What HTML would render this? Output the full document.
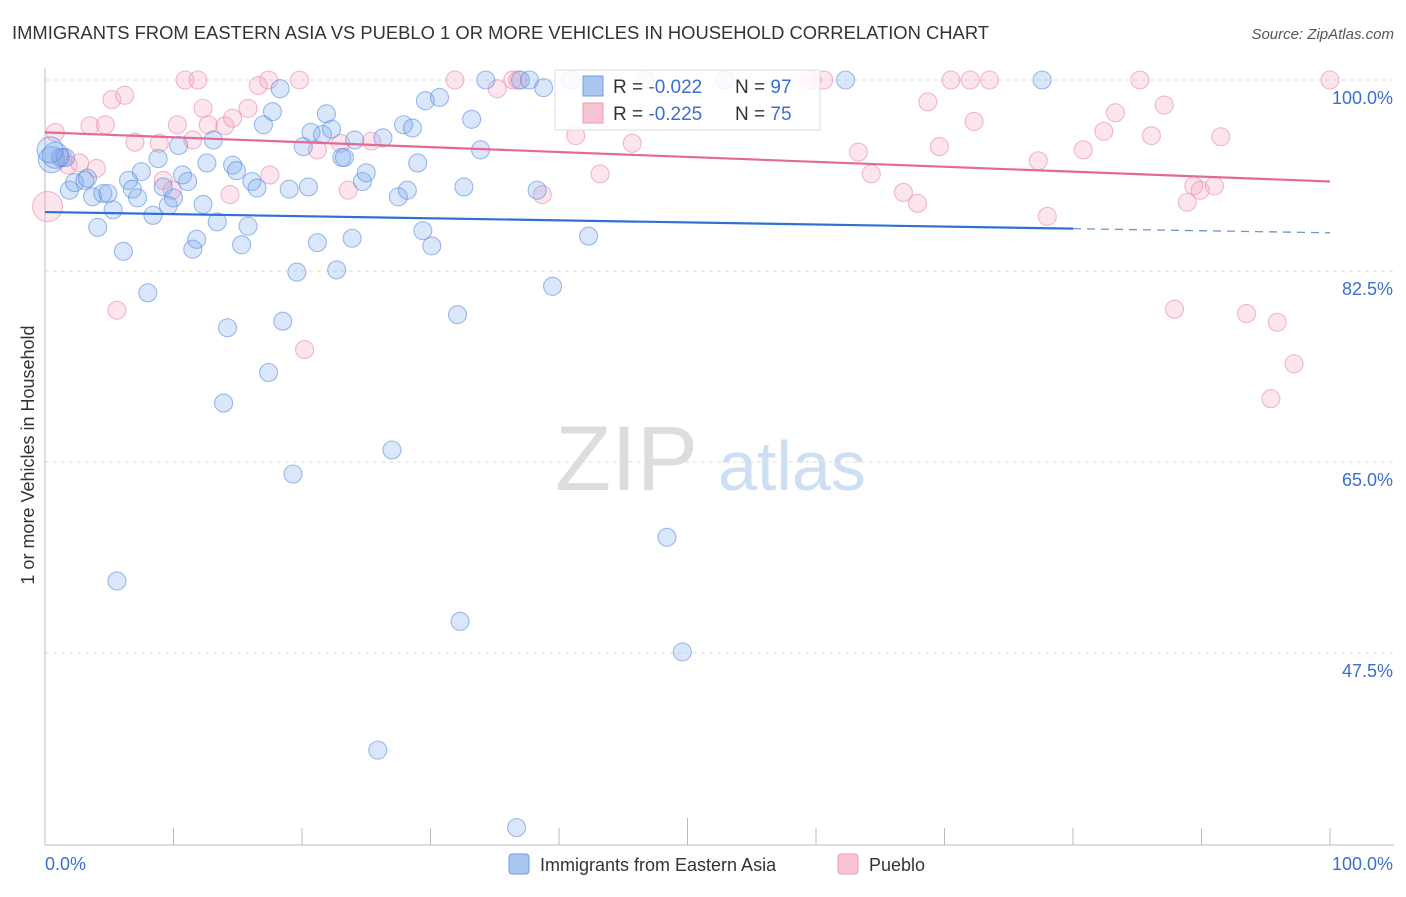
<!DOCTYPE html>
<html><head><meta charset="utf-8"><style>
body{margin:0;background:#fff;font-family:"Liberation Sans",sans-serif;}
svg text{font-family:"Liberation Sans",sans-serif;}
</style></head><body>
<svg id="chart" width="1406" height="892">
<text x="12" y="39" font-size="18" fill="#333" textLength="977" lengthAdjust="spacingAndGlyphs">IMMIGRANTS FROM EASTERN ASIA VS PUEBLO 1 OR MORE VEHICLES IN HOUSEHOLD CORRELATION CHART</text>
<text x="1394" y="39" font-size="15" fill="#555" text-anchor="end" font-style="italic">Source: ZipAtlas.com</text>
<text x="0" y="0" transform="translate(34,455) rotate(-90)" font-size="18" fill="#333" text-anchor="middle">1 or more Vehicles in Household</text>
<g><text x="555" y="490" font-size="92" fill="#ddd" font-family="Liberation Serif">ZIP</text><text x="718" y="490" font-size="70" fill="#cfdff3">atlas</text></g>
<g id="grid"></g><g id="axes"></g><g id="pts"></g><g id="trend"></g>
<g>
<rect x="555" y="70" width="265" height="60" fill="#fff" fill-opacity="0.85" stroke="#ddd"/>
<rect x="583" y="76" width="20" height="20" fill="#a9c6f0" stroke="#6f9ee0"/>
<text x="613" y="93" font-size="19" fill="#333">R = <tspan fill="#3a6fd0">-0.022</tspan></text>
<text x="735" y="93" font-size="19" fill="#333">N = <tspan fill="#3a6fd0">97</tspan></text>
<rect x="583" y="103" width="20" height="20" fill="#f8c4d3" stroke="#ee9db5"/>
<text x="613" y="120" font-size="19" fill="#333">R = <tspan fill="#3a6fd0">-0.225</tspan></text>
<text x="735" y="120" font-size="19" fill="#333">N = <tspan fill="#3a6fd0">75</tspan></text>
</g>
<g>
<rect x="509" y="854" width="20" height="20" rx="3" fill="#a9c6f0" stroke="#6f9ee0"/>
<text x="540" y="871" font-size="18" fill="#333">Immigrants from Eastern Asia</text>
<rect x="838" y="854" width="20" height="20" rx="3" fill="#f8c4d3" stroke="#ee9db5"/>
<text x="869" y="871" font-size="18" fill="#333">Pueblo</text>
</g>
</svg>
<script>
const blueX=[0.5,1.2,1.6,1.9,2.3,3.1,3.3,3.7,4.1,4.5,4.9,5.3,6.1,6.5,6.8,7.2,7.5,8.0,8.4,8.8,9.2,9.6,10.0,10.4,10.7,11.1,11.5,11.8,12.3,12.6,13.1,13.4,13.9,14.2,14.6,14.9,15.3,15.8,16.1,16.5,17.0,17.4,17.7,18.3,18.5,19.0,19.3,19.6,20.1,20.5,20.7,21.2,21.6,21.9,22.3,22.7,23.1,23.3,23.9,24.1,24.7,25.0,25.9,26.3,27.0,27.5,27.9,28.2,28.6,29.0,29.4,29.6,30.1,30.7,32.1,32.3,32.6,33.2,33.9,34.3,36.7,37.0,37.7,38.3,38.8,39.5,40.9,42.3,48.4,49.6,52.9,62.3,77.6,5.6,0.8,0.4];
const blueY=[92.7,92.9,92.9,89.9,90.6,90.8,91.0,89.3,86.5,89.6,89.6,88.1,84.3,90.8,90.0,89.2,91.6,80.5,87.6,92.8,90.2,88.5,89.2,94.0,91.3,90.7,84.5,85.4,88.6,92.4,94.5,87.0,70.4,77.3,92.2,91.7,84.9,86.6,90.7,90.1,95.9,73.2,97.1,99.2,77.9,90.0,63.9,82.4,93.9,90.2,95.2,85.1,95.0,96.9,95.5,82.6,92.9,92.9,85.5,94.5,90.7,91.5,38.6,94.7,66.1,89.3,95.9,89.9,95.6,92.4,86.2,98.1,84.8,98.4,78.5,50.4,90.2,96.4,93.6,100,31.5,100,100,89.9,99.3,81.1,100,85.7,58.1,47.6,100,100,100,54.1,93.1,93.6];
const pinkX=[0.2,0.8,1.4,1.8,2.7,3.5,4.0,4.7,5.2,5.6,6.2,7.0,8.9,9.2,9.9,10.3,10.9,11.5,11.9,12.3,12.7,14.0,14.4,14.6,15.8,16.6,17.4,17.5,19.8,20.2,21.2,23.0,23.6,25.4,31.9,35.2,36.4,36.8,38.7,41.3,43.2,45.7,46.7,59.4,59.7,60.6,63.3,64.3,66.8,67.9,68.7,69.6,70.5,72.0,72.3,73.5,77.3,78.0,80.8,82.4,83.3,85.2,86.1,87.1,87.9,88.9,89.4,89.9,91.0,91.5,93.5,95.4,95.9,97.2,100];
const pinkY=[88.4,95.2,92.9,92.2,92.4,95.8,91.9,95.9,98.2,78.9,98.6,94.3,94.2,90.8,89.9,95.9,100,94.5,100,97.4,95.9,95.8,89.5,96.5,97.4,99.5,100,91.3,100,75.3,93.6,94.2,89.9,94.4,100,99.2,100,100,89.5,94.9,91.4,94.2,100,100,100,100,93.4,91.4,89.7,88.7,98.0,93.9,100,100,96.2,100,92.6,87.5,93.6,95.3,97.0,100,94.9,97.7,79.0,88.8,90.3,89.9,90.3,94.8,78.6,70.8,77.8,74.0,100];
const yTicks=[100,82.5,65,47.5];
const yTickLabels=["100.0%","82.5%","65.0%","47.5%"];
const blueTrend=[87.9,86.0]; const pinkTrend=[95.2,90.7];
const NS="http://www.w3.org/2000/svg";
const X0=45,X1=1330,YB=845;
const sx=v=>X0+(X1-X0)*v/100;
const sy=v=>80+(100-v)*191/17.5;
function mk(t,a,p){const e=document.createElementNS(NS,t);for(const k in a)e.setAttribute(k,a[k]);p.appendChild(e);return e;}
const grid=document.getElementById('grid'),axes=document.getElementById('axes');
yTicks.forEach((v,i)=>{
 const l=mk('line',{x1:X0,x2:1394,y1:sy(v),y2:sy(v),stroke:'#ddd','stroke-dasharray':'4,4'},grid);
 
 
 const t=mk('text',{x:1393,y:sy(v)+24,'font-size':18,fill:'#3a6fd0','text-anchor':'end'},grid);
 t.textContent=yTickLabels[i];
 
 
});
let a=mk('line',{x1:X0,x2:X0,y1:68,y2:YB,stroke:'#bbb'},axes);


a=mk('line',{x1:X0,x2:1394,y1:YB,y2:YB,stroke:'#bbb'},axes);


for(let i=0;i<=10;i++){const tk=mk('line',{x1:sx(i*10),x2:sx(i*10),y1:i==5?818:828,y2:YB,stroke:'#bbb'},axes);
 
 }
let xt=mk('text',{x:45,y:870,'font-size':18,fill:'#3a6fd0'},axes);xt.textContent='0.0%';


xt=mk('text',{x:1393,y:870,'font-size':18,fill:'#3a6fd0','text-anchor':'end'},axes);xt.textContent='100.0%';


const pts=document.getElementById('pts');
pinkX.forEach((x,i)=>{const c=mk('circle',{cx:sx(x),cy:sy(pinkY[i]),r:i==0?15:9,fill:'rgba(245,170,195,0.3)',stroke:'rgba(232,140,172,0.6)','stroke-width':1.1},pts);
 
 });
blueX.forEach((x,i)=>{const big=i==0||i>=blueX.length-2;const c=mk('circle',{cx:sx(x),cy:sy(blueY[i]),r:big?13:9,fill:'rgba(120,165,235,0.27)',stroke:'rgba(80,135,220,0.55)','stroke-width':1.1},pts);
 
 });
const tr=document.getElementById('trend');
const by=x=>blueTrend[0]+(blueTrend[1]-blueTrend[0])*x/100;
let l=mk('line',{x1:sx(0),y1:sy(by(0)),x2:sx(80),y2:sy(by(80)),stroke:'#2f6fd6','stroke-width':2.2},tr);


l=mk('line',{x1:sx(80),y1:sy(by(80)),x2:sx(100),y2:sy(by(100)),stroke:'#6f95cc','stroke-width':1.3,'stroke-dasharray':'8,6'},tr);


l=mk('line',{x1:sx(0),y1:sy(pinkTrend[0]),x2:sx(100),y2:sy(pinkTrend[1]),stroke:'#e46a94','stroke-width':2.2},tr);


</script>
</body></html>
